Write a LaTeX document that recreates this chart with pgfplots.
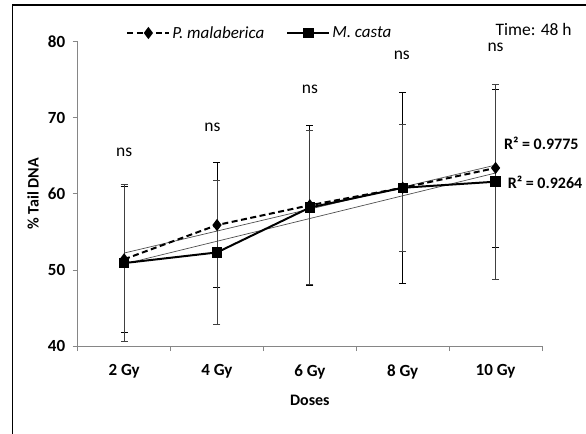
\documentclass[border=0pt]{standalone}
\usepackage{fontspec}
\setmainfont{Carlito}
\usepackage{pgfplots}
\usepackage{pgfplotstable}
\pgfplotsset{compat=1.18}
\definecolor{axisgray}{RGB}{134,134,134}
\definecolor{trendgray}{RGB}{80,80,80}
\newcommand\fs{\fontsize{17.5bp}{20bp}\selectfont}
\newcommand\fsb{\fontsize{17bp}{20bp}\selectfont}
\newcommand\fsr{\fontsize{16bp}{19bp}\selectfont}

% x = dose index (1 = 2 Gy ... 5 = 10 Gy)
\pgfplotstableread{
x  y     err
1  51.4  9.6
2  55.9  8.2
3  58.5  10.5
4  60.8  12.5
5  63.4  10.4
}\malaberica
\pgfplotstableread{
x  y     err
1  50.9  10.3
2  52.3  9.5
3  58.2  10.1
4  60.8  8.3
5  61.6  12.8
}\casta

\begin{document}
\begin{tikzpicture}[font=\fs]
\begin{axis}[
  at={(0,0)}, anchor=south west,
  scale only axis, width=464.3bp, height=304.3bp,
  xmin=0.5, xmax=5.5, ymin=40, ymax=80,
  axis lines*=left,
  axis line style={-, draw=axisgray, line width=0.8bp},
  xtick={1,...,5},
  xticklabels={2 Gy,4 Gy,6 Gy,8 Gy,10 Gy},
  minor xtick={0.5,1.5,...,5.5},
  ytick={40,50,...,80},
  tick align=outside,
  major tick length=5bp, minor tick length=5bp,
  tick style={axisgray, line width=0.8bp},
  major x tick style={draw=none},
  /pgf/number format/assume math mode=true,
  ticklabel style={font=\fsb\bfseries},
  yticklabel style={xshift=-4bp},
  xticklabel style={yshift=-10bp},
  xlabel={\bfseries Doses},
  ylabel={\bfseries\% Tail DNA},
  xlabel style={font=\fsr, at={(axis description cs:0.5,-0.1775)}, anchor=center},
  ylabel style={font=\fsr, at={(axis description cs:-0.0963,0.5)}, anchor=center},
  clip=false,
  legend columns=2,
  legend style={draw=none, fill=none, font=\fsb\itshape,
    at={(rel axis cs:0.098,1.0286)}, anchor=west,
    /tikz/every even column/.append style={column sep=20bp}},
  legend image code/.code={%
    \draw[mark repeat=2, mark phase=2, #1]
      plot coordinates {(0bp,0bp) (21bp,0bp) (42bp,0bp)};},
]
\addplot[trendgray, line width=0.7bp, forget plot]
  table[x=x, y={create col/linear regression={y=y}}] {\malaberica};
\addplot[trendgray, line width=0.7bp, forget plot]
  table[x=x, y={create col/linear regression={y=y}}] {\casta};

\addplot[black, line width=2bp, dash pattern=on 6bp off 3.5bp,
  mark=diamond*, mark size=4.5bp, mark options={solid},
  error bars/.cd, y dir=both, y explicit,
  error bar style={solid, line width=0.7bp, black},
  error mark options={rotate=90, solid, black, mark size=3.5bp, line width=0.7bp}]
  table[x=x, y=y, y error=err] {\malaberica};
\addlegendentry{P. malaberica}

\addplot[black, line width=2bp, solid,
  mark=square*, mark size=4.2bp,
  error bars/.cd, y dir=both, y explicit,
  error bar style={solid, line width=0.7bp, black!75},
  error mark options={rotate=90, solid, black!75, mark size=3.5bp, line width=0.7bp}]
  table[x=x, y=y, y error=err] {\casta};
\addlegendentry{M. casta}

\node at (axis cs:1,65.4) {ns};
\node at (axis cs:1.95,68.7) {ns};
\node at (axis cs:3,73.7) {ns};
\node at (axis cs:3.99,78.25) {ns};
\node at (axis cs:5,79.2) {ns};
\node at (axis cs:5.41,81.67) {Time: 48 h};
\node[anchor=west, inner sep=0pt, font=\fsr\bfseries] at (axis cs:5.09,66.7) {R² = 0.9775};
\node[anchor=west, inner sep=0pt, font=\fsr\bfseries] at (axis cs:5.13,61.5) {R² = 0.9264};
\end{axis}
\draw[line width=1.3bp] (-65bp,-95bp) -- (-65bp,341bp) -- (515bp,341bp);
\pgfresetboundingbox
\useasboundingbox (-77.7bp,-88bp) rectangle (508.3bp,346bp);
\end{tikzpicture}
\end{document}
